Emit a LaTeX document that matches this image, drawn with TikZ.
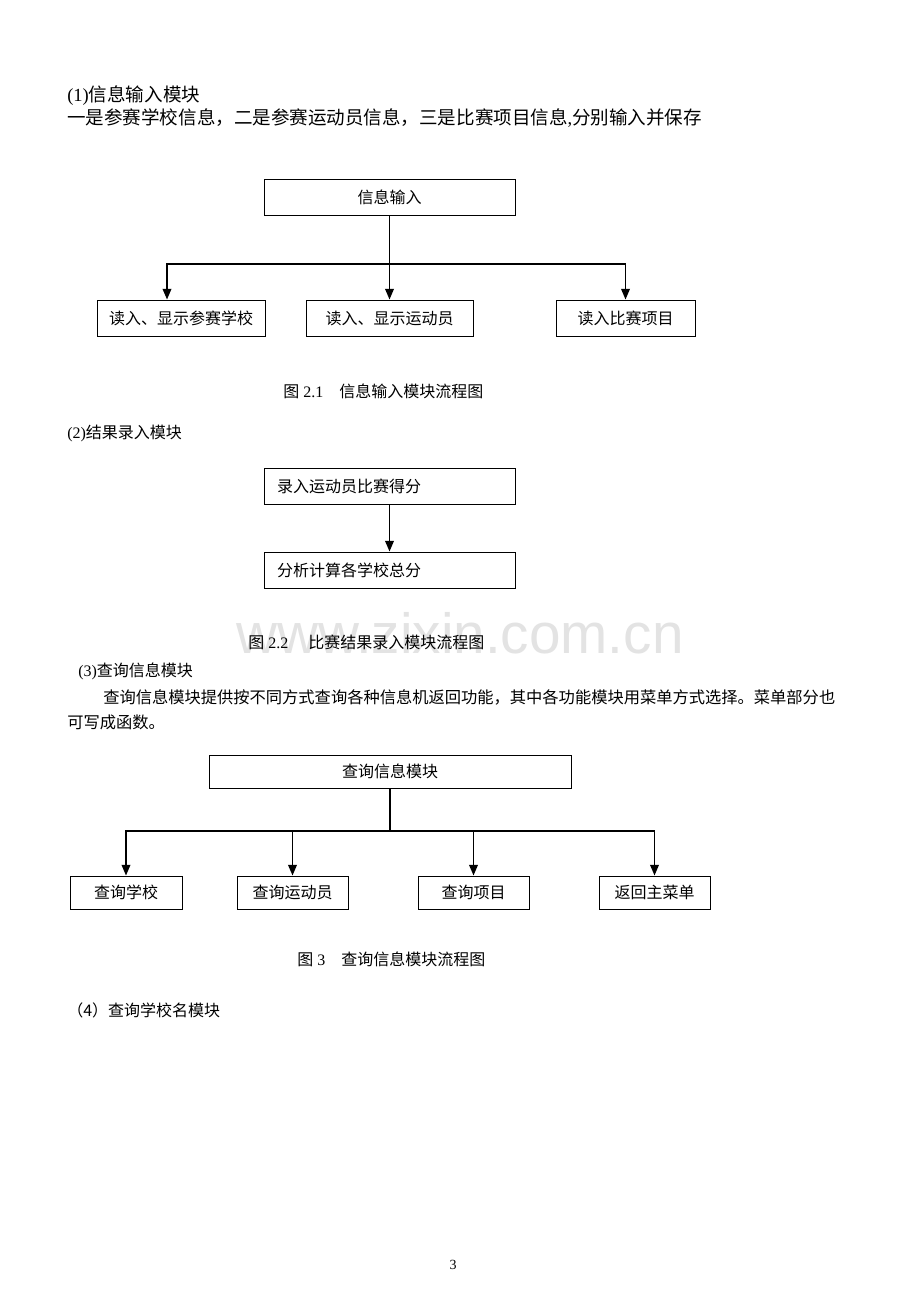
\documentclass[tikz,border=0pt]{standalone}
\usepackage{fontspec}
\setmainfont{Liberation Serif}
\newfontfamily\cjk{Noto Sans CJK SC}
\newfontfamily\wmfont{Liberation Sans}
\usetikzlibrary{arrows.meta}
\newcommand\zh[1]{{\cjk #1}}
\begin{document}
\begin{tikzpicture}[x=0.75pt,y=-0.75pt,
  box/.style={draw, line width=0.75pt, inner sep=0pt, font=\fontsize{12}{14}\selectfont\cjk},
  lbox/.style={box, align=left, text width=#1},
  arr/.style={line width=1.1pt, -{Triangle[length=8pt,width=6.5pt]}},
  plain/.style={line width=0.8pt},
  txt/.style={inner sep=0pt, anchor=west, font=\fontsize{12}{14}\selectfont},
  bigtxt/.style={inner sep=0pt, anchor=west, font=\fontsize{13.9}{16}\selectfont},
  captxt/.style={inner sep=0pt, anchor=west, font=\fontsize{12}{14}\selectfont}]
\useasboundingbox (0,0) rectangle (920,1302);
\fill[white] (0,0) rectangle (920,1302);

% watermark
\node[inner sep=0pt, anchor=base, text=black!11, font=\fontsize{42.5}{48}\wmfont] (wm) at (460,653) {www.zixin.com.cn};

% section 1
\node[bigtxt] (h1) at (67,96) {(1)\zh{信息输入模块}};
\node[bigtxt] (p1) at (67,118) {\zh{一是参赛学校信息，二是参赛运动员信息，三是比赛项目信息},\zh{分别输入并保存}};

\node[box, minimum width=188.25pt, minimum height=26.25pt] (in) at (389.5,197.5) {信息输入};
\node[box, minimum width=126pt, minimum height=27pt] (b1) at (181,318) {读入、显示参赛学校};
\node[box, minimum width=125.25pt, minimum height=27pt] (b2) at (389.5,318) {读入、显示运动员};
\node[box, minimum width=104.25pt, minimum height=27pt] (b3) at (625.5,318) {读入比赛项目};
\coordinate (j1) at (389.5,264);
\draw[arr] (in.south) -- (b2.north);
\draw[arr] (j1) -| ([xshift=-10.5pt]b1.north);
\draw[arr] (j1) -| (b3.north);

\node[captxt] (c1) at (283,391) {\zh{图} 2.1\hspace{1em}\zh{信息输入模块流程图}};

% section 2
\node[txt] (h2) at (67,433) {(2)\zh{结果录入模块}};
\node[lbox=168.75pt, minimum width=188.25pt, minimum height=27pt, inner xsep=9.75pt] (r1) at (389.5,486) {录入运动员比赛得分};
\node[lbox=168.75pt, minimum width=188.25pt, minimum height=27pt, inner xsep=9.75pt] (r2) at (389.5,570) {分析计算各学校总分};
\draw[arr] (r1.south) -- (r2.north);

\node[captxt] (c2) at (248,642) {\zh{图} 2.2\hspace{1.25em}\zh{比赛结果录入模块流程图}};

% section 3
\node[txt] (h3) at (78,671) {(3)\zh{查询信息模块}};
\node[inner sep=0pt, anchor=west, font=\fontsize{12.2}{14}\selectfont\cjk] (p3a) at (103,697) {查询信息模块提供按不同方式查询各种信息机返回功能，其中各功能模块用菜单方式选择。菜单部分也};
\node[inner sep=0pt, anchor=west, font=\fontsize{12.2}{14}\selectfont\cjk] (p3b) at (67,722) {可写成函数。};

\node[box, minimum width=271.5pt, minimum height=24.75pt] (q) at (390,771.5) {查询信息模块};
\node[box, minimum width=84pt, minimum height=24.75pt] (q1) at (126,892.5) {查询学校};
\node[box, minimum width=83.25pt, minimum height=24.75pt] (q2) at (292.5,892.5) {查询运动员};
\node[box, minimum width=83.25pt, minimum height=24.75pt] (q3) at (473.5,892.5) {查询项目};
\node[box, minimum width=83.25pt, minimum height=24.75pt] (q4) at (654.5,892.5) {返回主菜单};
\coordinate (j3) at (390,831);
\draw[plain] (q.south) -- (j3);
\draw[arr] (j3) -| (q1.north);
\draw[arr] (j3) -| (q2.north);
\draw[arr] (j3) -| (q3.north);
\draw[arr] (j3) -| (q4.north);

\node[captxt] (c3) at (297,959) {\zh{图} 3\hspace{1em}\zh{查询信息模块流程图}};

% section 4
\node[txt] (h4) at (67,1010) {\zh{（4）查询学校名模块}};

% page number
\node[inner sep=0pt, font=\fontsize{10.5}{12}\selectfont] (pg) at (453,1265) {3};
\end{tikzpicture}
\end{document}
